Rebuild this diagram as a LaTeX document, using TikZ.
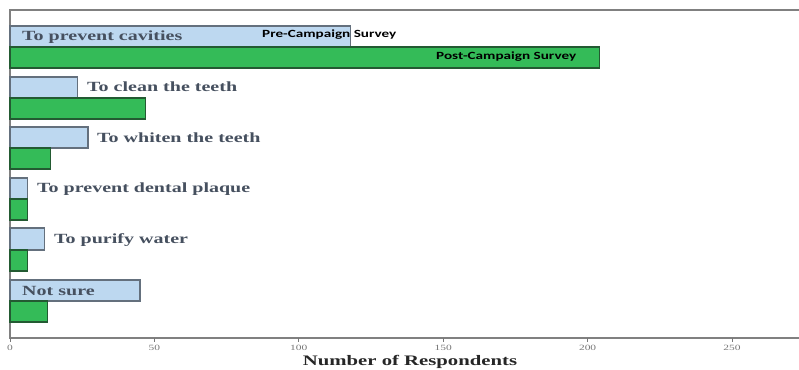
\documentclass[tikz,border=0pt]{standalone}
\usepackage{fontspec}
\setmainfont{Liberation Serif}
\newfontfamily\labfont[FakeStretch=1.43]{Liberation Serif}
\newfontfamily\legfont[FakeStretch=1.38]{Carlito}
\definecolor{prefill}{RGB}{189,216,240}
\definecolor{predraw}{RGB}{100,112,125}
\definecolor{postfill}{RGB}{52,187,88}
\definecolor{postdraw}{RGB}{35,90,50}
\definecolor{labcol}{RGB}{70,80,95}
\definecolor{framecol}{RGB}{128,128,128}
\definecolor{tickcol}{RGB}{120,120,120}
\begin{document}
\begin{tikzpicture}[x=1pt,y=-1pt,
  prebar/.style={fill=prefill,draw=predraw,line width=1.2pt},
  postbar/.style={fill=postfill,draw=postdraw,line width=1.2pt},
  catlabel/.style={anchor=west,inner sep=0pt,text=labcol,font=\labfont\bfseries\fontsize{14}{16}\selectfont},
  leglabel/.style={anchor=west,inner sep=0pt,text=black,font=\legfont\bfseries\fontsize{11}{13}\selectfont},
  ticklabel/.style={inner sep=0pt,text=tickcol,font=\labfont\fontsize{8}{9}\selectfont},
  axistitle/.style={inner sep=0pt,text=black!85,font=\labfont\bfseries\fontsize{14.5}{16}\selectfont}]
\useasboundingbox (0,0) rectangle (799,369);
\fill[white] (0,0) rectangle (799,369);
\def\u{2.888}
% frame
\draw[framecol,line width=1.5pt] (799,10) -- (10,10) -- (10,338) -- (799,338);
\foreach \v in {0,50,100,150,200,250}{
  \draw[tickcol,line width=1pt] ({10+\v*\u},338) -- ({10+\v*\u},342);
  \node[ticklabel] (t\v) at ({10+\v*\u},348) {\v};
}
% bars
\draw[prebar]  (10,26)  rectangle ({10+118*\u},47);
\draw[postbar] (10,47)  rectangle ({10+204*\u},68);
\draw[prebar]  (10,77)  rectangle ({10+23.5*\u},98);
\draw[postbar] (10,98)  rectangle ({10+47*\u},119);
\draw[prebar]  (10,127) rectangle ({10+27*\u},148);
\draw[postbar] (10,148) rectangle ({10+14*\u},169);
\draw[prebar]  (10,178) rectangle ({10+6*\u},199);
\draw[postbar] (10,199) rectangle ({10+6*\u},220);
\draw[prebar]  (10,228) rectangle ({10+12*\u},250);
\draw[postbar] (10,250) rectangle ({10+6*\u},271);
\draw[prebar]  (10,280) rectangle ({10+45*\u},301);
\draw[postbar] (10,301) rectangle ({10+13*\u},322);
% labels
\node[catlabel] (c1) at (22,37) {To prevent cavities};
\node[catlabel] (c2) at (87,87) {To clean the teeth};
\node[catlabel] (c3) at (97,138) {To whiten the teeth};
\node[catlabel] (c4) at (37,189) {To prevent dental plaque};
\node[catlabel] (c5) at (54,240) {To purify water};
\node[catlabel] (c6) at (22,291) {Not sure};
\node[leglabel] (pre) at (262,35) {Pre-Campaign Survey};
\node[leglabel] (post) at (436,57) {Post-Campaign Survey};
\node[axistitle] (title) at (410,362) {Number of Respondents};
\end{tikzpicture}
\end{document}
